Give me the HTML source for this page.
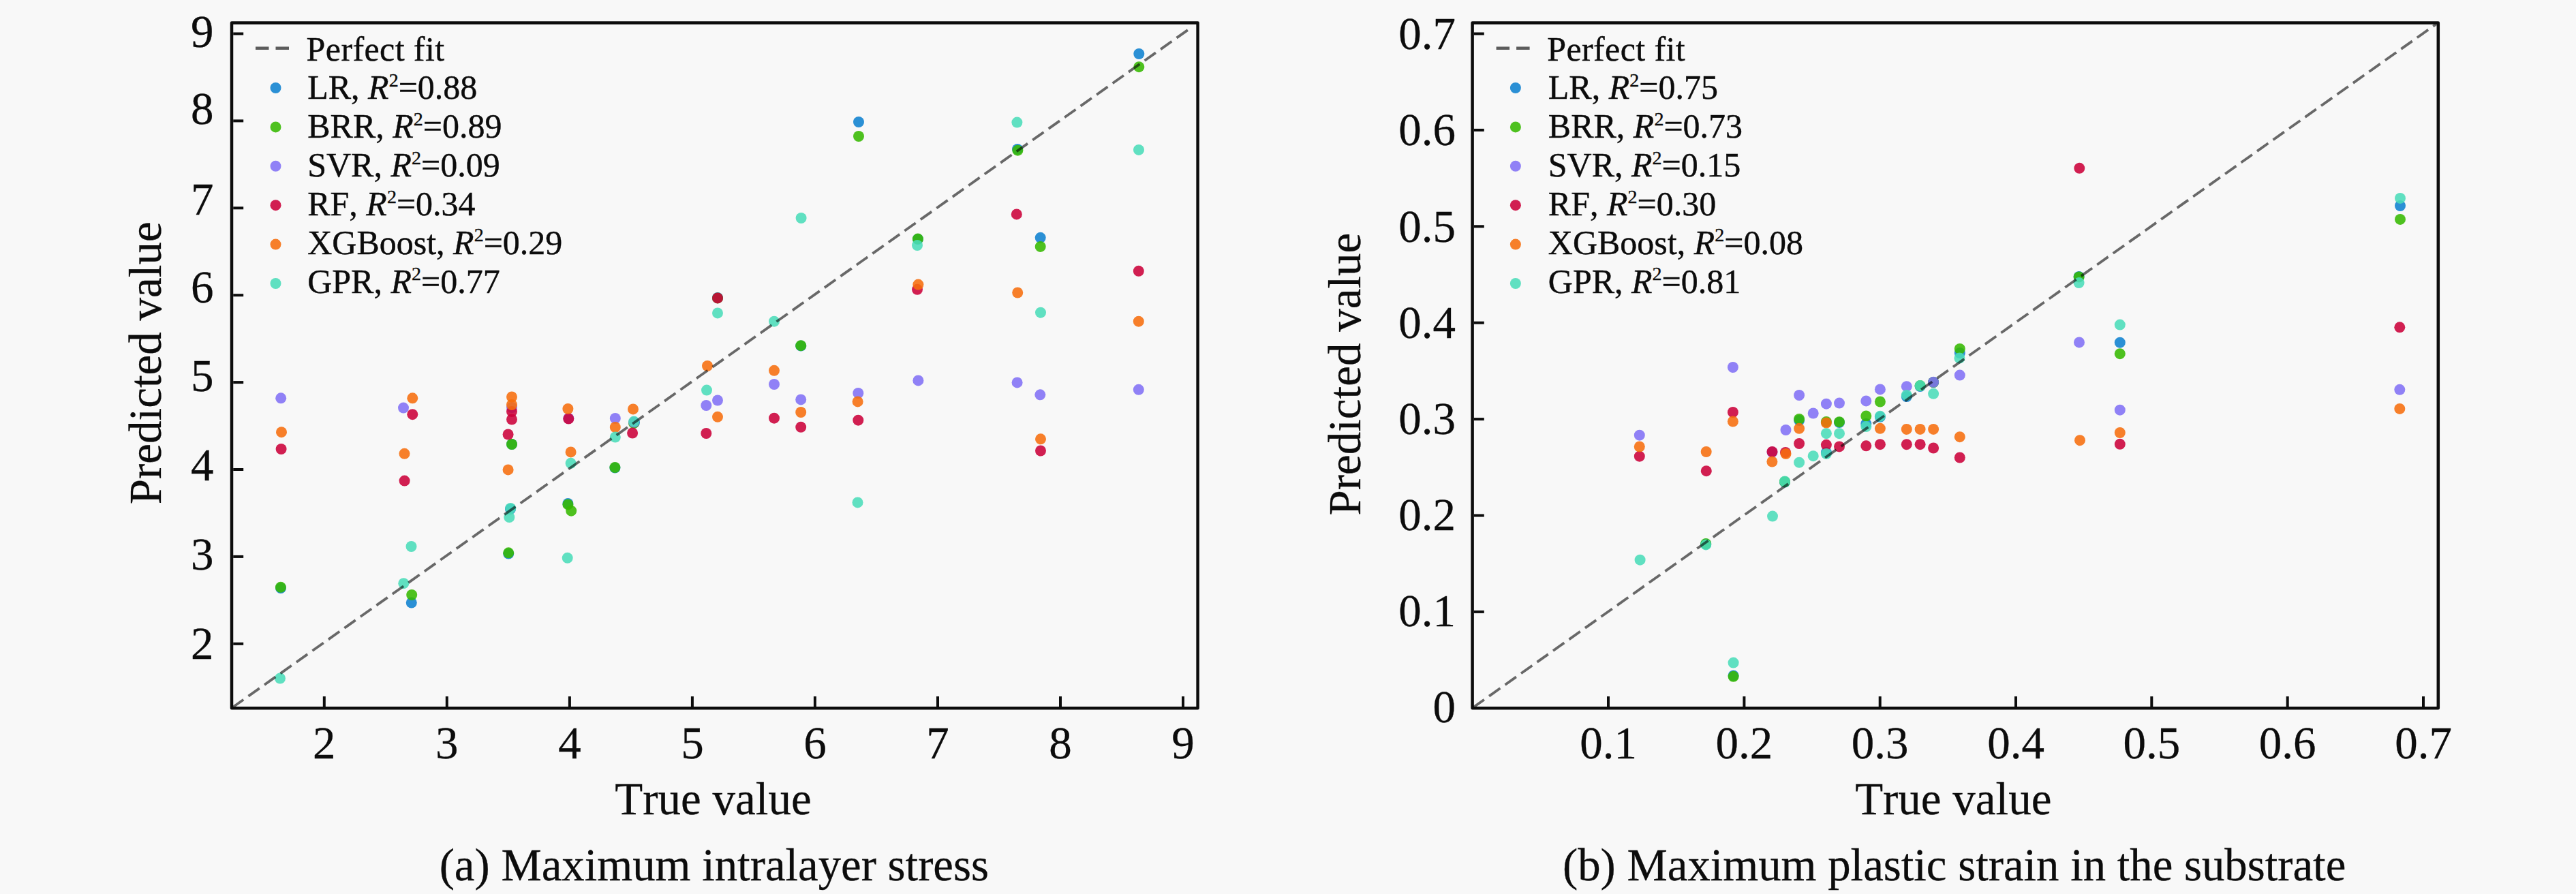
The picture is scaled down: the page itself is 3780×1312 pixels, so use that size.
<!DOCTYPE html>
<html><head><meta charset="utf-8"><title>Predicted vs true</title>
<style>
html,body{margin:0;padding:0;background:#f8f8f8;}
body{width:3780px;height:1312px;overflow:hidden;}
svg{display:block;position:absolute;left:0;top:0;}
text{font-family:"Liberation Serif",serif;fill:#0c0c0c;font-kerning:none;}
.t{font-size:67px;stroke:#0c0c0c;stroke-width:0.3px;}
.l{font-size:50px;stroke:#0c0c0c;stroke-width:0.4px;}
.s{font-size:28px;}
.i{font-style:italic;}
</style></head><body>
<svg width="3780" height="1312" viewBox="0 0 3780 1312">
<rect x="0" y="0" width="3780" height="1312" fill="#f8f8f8"/>
<g>
<clipPath id="c0"><rect x="340.0" y="33.4" width="1417.6" height="1005.9"/></clipPath>
<g fill="#0e81cf" fill-opacity="0.88">
<circle cx="412.0" cy="863.0" r="8.0"/><circle cx="603.8" cy="884.5" r="8.0"/><circle cx="751.0" cy="652.0" r="8.0"/><circle cx="749.0" cy="747.0" r="8.0"/><circle cx="746.2" cy="812.5" r="8.0"/><circle cx="833.4" cy="739.0" r="8.0"/><circle cx="902.4" cy="686.6" r="8.0"/><circle cx="931.0" cy="620.0" r="8.0"/><circle cx="1053.0" cy="437.0" r="8.0"/><circle cx="1175.2" cy="507.6" r="8.0"/><circle cx="1260.0" cy="179.0" r="8.0"/><circle cx="1346.9" cy="351.0" r="8.0"/><circle cx="1493.0" cy="219.0" r="8.0"/><circle cx="1526.7" cy="348.8" r="8.0"/><circle cx="1671.3" cy="79.0" r="8.0"/>
</g>
<g fill="#35b800" fill-opacity="0.88">
<circle cx="411.9" cy="861.8" r="8.0"/><circle cx="604.2" cy="873.0" r="8.0"/><circle cx="751.0" cy="652.0" r="8.0"/><circle cx="746.2" cy="811.3" r="8.0"/><circle cx="833.4" cy="740.4" r="8.0"/><circle cx="838.2" cy="749.7" r="8.0"/><circle cx="902.4" cy="686.0" r="8.0"/><circle cx="930.0" cy="621.0" r="8.0"/><circle cx="1053.0" cy="437.4" r="8.0"/><circle cx="1175.2" cy="507.2" r="8.0"/><circle cx="1260.0" cy="200.0" r="8.0"/><circle cx="1346.9" cy="350.6" r="8.0"/><circle cx="1493.4" cy="220.7" r="8.0"/><circle cx="1526.7" cy="361.9" r="8.0"/><circle cx="1671.3" cy="98.2" r="8.0"/>
</g>
<g fill="#8170f5" fill-opacity="0.88">
<circle cx="412.2" cy="584.3" r="8.0"/><circle cx="592.0" cy="598.6" r="8.0"/><circle cx="751.0" cy="598.0" r="8.0"/><circle cx="834.3" cy="614.0" r="8.0"/><circle cx="902.8" cy="614.0" r="8.0"/><circle cx="930.2" cy="619.5" r="8.0"/><circle cx="1036.3" cy="595.0" r="8.0"/><circle cx="1053.0" cy="587.5" r="8.0"/><circle cx="1136.0" cy="564.0" r="8.0"/><circle cx="1175.2" cy="586.4" r="8.0"/><circle cx="1259.3" cy="577.0" r="8.0"/><circle cx="1347.4" cy="558.4" r="8.0"/><circle cx="1492.6" cy="561.4" r="8.0"/><circle cx="1526.3" cy="579.3" r="8.0"/><circle cx="1670.8" cy="571.8" r="8.0"/>
</g>
<g fill="#cb0039" fill-opacity="0.88">
<circle cx="412.6" cy="659.0" r="8.0"/><circle cx="605.3" cy="608.2" r="8.0"/><circle cx="593.6" cy="705.6" r="8.0"/><circle cx="751.0" cy="604.0" r="8.0"/><circle cx="751.0" cy="615.5" r="8.0"/><circle cx="745.6" cy="637.5" r="8.0"/><circle cx="834.3" cy="614.5" r="8.0"/><circle cx="928.1" cy="635.5" r="8.0"/><circle cx="1036.3" cy="636.0" r="8.0"/><circle cx="1053.0" cy="437.4" r="8.0"/><circle cx="1136.0" cy="613.7" r="8.0"/><circle cx="1175.2" cy="626.8" r="8.0"/><circle cx="1259.3" cy="616.7" r="8.0"/><circle cx="1346.0" cy="424.8" r="8.0"/><circle cx="1491.8" cy="314.4" r="8.0"/><circle cx="1527.0" cy="661.5" r="8.0"/><circle cx="1670.8" cy="397.8" r="8.0"/>
</g>
<g fill="#f66d0c" fill-opacity="0.88">
<circle cx="413.0" cy="634.2" r="8.0"/><circle cx="605.3" cy="584.3" r="8.0"/><circle cx="593.5" cy="665.8" r="8.0"/><circle cx="751.0" cy="582.5" r="8.0"/><circle cx="751.0" cy="594.0" r="8.0"/><circle cx="745.6" cy="689.4" r="8.0"/><circle cx="833.4" cy="600.0" r="8.0"/><circle cx="837.6" cy="663.4" r="8.0"/><circle cx="902.8" cy="627.0" r="8.0"/><circle cx="929.0" cy="600.4" r="8.0"/><circle cx="1038.0" cy="537.0" r="8.0"/><circle cx="1053.0" cy="611.8" r="8.0"/><circle cx="1136.0" cy="543.8" r="8.0"/><circle cx="1175.2" cy="605.0" r="8.0"/><circle cx="1258.6" cy="589.4" r="8.0"/><circle cx="1347.4" cy="417.6" r="8.0"/><circle cx="1493.2" cy="429.5" r="8.0"/><circle cx="1527.0" cy="644.3" r="8.0"/><circle cx="1670.8" cy="471.7" r="8.0"/>
</g>
<g fill="#4adcb8" fill-opacity="0.88">
<circle cx="411.0" cy="995.5" r="8.0"/><circle cx="603.5" cy="802.0" r="8.0"/><circle cx="592.3" cy="856.2" r="8.0"/><circle cx="749.2" cy="746.0" r="8.0"/><circle cx="747.3" cy="759.0" r="8.0"/><circle cx="837.6" cy="679.8" r="8.0"/><circle cx="832.7" cy="818.8" r="8.0"/><circle cx="902.8" cy="641.5" r="8.0"/><circle cx="930.2" cy="618.6" r="8.0"/><circle cx="1037.0" cy="572.6" r="8.0"/><circle cx="1053.0" cy="459.4" r="8.0"/><circle cx="1136.0" cy="471.7" r="8.0"/><circle cx="1175.6" cy="320.0" r="8.0"/><circle cx="1258.5" cy="737.4" r="8.0"/><circle cx="1346.0" cy="360.0" r="8.0"/><circle cx="1492.4" cy="179.6" r="8.0"/><circle cx="1527.0" cy="458.7" r="8.0"/><circle cx="1671.0" cy="219.9" r="8.0"/>
</g>
<line x1="341.0" y1="1038.3" x2="1743.0" y2="44.0" stroke="#000" stroke-opacity="0.58" stroke-width="3.8" stroke-dasharray="20 8.79" clip-path="url(#c0)"/>
<rect x="340.0" y="33.4" width="1417.6" height="1005.9" fill="none" stroke="#0c0c0c" stroke-width="4.5" stroke-linejoin="round"/>
<g stroke="#0c0c0c" stroke-width="4.0">
<line x1="475.8" y1="1037.0" x2="475.8" y2="1022.0"/>
<line x1="655.8" y1="1037.0" x2="655.8" y2="1022.0"/>
<line x1="835.9" y1="1037.0" x2="835.9" y2="1022.0"/>
<line x1="1015.9" y1="1037.0" x2="1015.9" y2="1022.0"/>
<line x1="1195.9" y1="1037.0" x2="1195.9" y2="1022.0"/>
<line x1="1376.0" y1="1037.0" x2="1376.0" y2="1022.0"/>
<line x1="1556.0" y1="1037.0" x2="1556.0" y2="1022.0"/>
<line x1="1736.0" y1="1037.0" x2="1736.0" y2="1022.0"/>
<line x1="342.2" y1="944.8" x2="357.2" y2="944.8"/>
<line x1="342.2" y1="816.9" x2="357.2" y2="816.9"/>
<line x1="342.2" y1="689.0" x2="357.2" y2="689.0"/>
<line x1="342.2" y1="561.1" x2="357.2" y2="561.1"/>
<line x1="342.2" y1="433.2" x2="357.2" y2="433.2"/>
<line x1="342.2" y1="305.3" x2="357.2" y2="305.3"/>
<line x1="342.2" y1="177.4" x2="357.2" y2="177.4"/>
<line x1="342.2" y1="49.5" x2="357.2" y2="49.5"/>
</g>
<text class="t" x="475.8" y="1113.1" text-anchor="middle">2</text>
<text class="t" x="655.8" y="1113.1" text-anchor="middle">3</text>
<text class="t" x="835.9" y="1113.1" text-anchor="middle">4</text>
<text class="t" x="1015.9" y="1113.1" text-anchor="middle">5</text>
<text class="t" x="1195.9" y="1113.1" text-anchor="middle">6</text>
<text class="t" x="1376.0" y="1113.1" text-anchor="middle">7</text>
<text class="t" x="1556.0" y="1113.1" text-anchor="middle">8</text>
<text class="t" x="1736.0" y="1113.1" text-anchor="middle">9</text>
<text class="t" x="313.6" y="967.1" text-anchor="end">2</text>
<text class="t" x="313.6" y="836.3" text-anchor="end">3</text>
<text class="t" x="313.6" y="705.2" text-anchor="end">4</text>
<text class="t" x="313.6" y="574.3" text-anchor="end">5</text>
<text class="t" x="313.6" y="443.6" text-anchor="end">6</text>
<text class="t" x="313.6" y="314.5" text-anchor="end">7</text>
<text class="t" x="313.6" y="182.4" text-anchor="end">8</text>
<text class="t" x="313.6" y="69.3" text-anchor="end">9</text>
<text class="t" x="1046.5" y="1194.6" text-anchor="middle">True value</text>
<text class="t" transform="translate(235.6 532.8) rotate(-90)" text-anchor="middle">Predicted value</text>
<text class="t" style="font-size:66.75px" x="1047.8" y="1291.5" text-anchor="middle">(a) Maximum intralayer stress</text>
<line x1="375.0" y1="70.8" x2="424.5" y2="70.8" stroke="#5c5c5c" stroke-width="4.4" stroke-dasharray="19.5 10"/>
<text class="l" x="449.6" y="88.6" style="letter-spacing:0.4px">Perfect fit</text>
<circle cx="404.5" cy="129.0" r="8.0" fill="#0e81cf" fill-opacity="0.88"/>
<text class="l" x="451.2" y="145.4">LR, <tspan class="i">R</tspan><tspan class="s" dy="-18.5">2</tspan><tspan dy="18.5">=0.88</tspan></text>
<circle cx="404.5" cy="186.4" r="8.0" fill="#35b800" fill-opacity="0.88"/>
<text class="l" x="451.2" y="202.3">BRR, <tspan class="i">R</tspan><tspan class="s" dy="-18.5">2</tspan><tspan dy="18.5">=0.89</tspan></text>
<circle cx="404.5" cy="243.8" r="8.0" fill="#8170f5" fill-opacity="0.88"/>
<text class="l" x="451.2" y="259.1">SVR, <tspan class="i">R</tspan><tspan class="s" dy="-18.5">2</tspan><tspan dy="18.5">=0.09</tspan></text>
<circle cx="404.5" cy="301.2" r="8.0" fill="#cb0039" fill-opacity="0.88"/>
<text class="l" x="451.2" y="316.0">RF, <tspan class="i">R</tspan><tspan class="s" dy="-18.5">2</tspan><tspan dy="18.5">=0.34</tspan></text>
<circle cx="404.5" cy="358.6" r="8.0" fill="#f66d0c" fill-opacity="0.88"/>
<text class="l" x="451.2" y="372.9">XGBoost, <tspan class="i">R</tspan><tspan class="s" dy="-18.5">2</tspan><tspan dy="18.5">=0.29</tspan></text>
<circle cx="404.5" cy="416.0" r="8.0" fill="#4adcb8" fill-opacity="0.88"/>
<text class="l" x="451.2" y="429.7">GPR, <tspan class="i">R</tspan><tspan class="s" dy="-18.5">2</tspan><tspan dy="18.5">=0.77</tspan></text>
</g>
<g>
<clipPath id="c1"><rect x="2160.6" y="33.4" width="1417.2" height="1005.9"/></clipPath>
<g fill="#0e81cf" fill-opacity="0.88">
<circle cx="2503.2" cy="798.5" r="8.0"/><circle cx="2543.6" cy="991.5" r="8.0"/><circle cx="2619.0" cy="707.5" r="8.0"/><circle cx="2640.1" cy="617.0" r="8.0"/><circle cx="2679.9" cy="664.0" r="8.0"/><circle cx="2699.0" cy="620.0" r="8.0"/><circle cx="2738.3" cy="622.0" r="8.0"/><circle cx="2758.9" cy="611.8" r="8.0"/><circle cx="2797.8" cy="582.0" r="8.0"/><circle cx="2817.6" cy="567.0" r="8.0"/><circle cx="2837.1" cy="561.0" r="8.0"/><circle cx="2875.8" cy="518.0" r="8.0"/><circle cx="3050.6" cy="406.0" r="8.0"/><circle cx="3110.8" cy="502.7" r="8.0"/><circle cx="3522.0" cy="302.0" r="8.0"/>
</g>
<g fill="#35b800" fill-opacity="0.88">
<circle cx="2503.2" cy="798.0" r="8.0"/><circle cx="2543.6" cy="992.8" r="8.0"/><circle cx="2619.0" cy="707.0" r="8.0"/><circle cx="2640.1" cy="615.0" r="8.0"/><circle cx="2679.9" cy="619.0" r="8.0"/><circle cx="2699.0" cy="619.2" r="8.0"/><circle cx="2738.3" cy="610.5" r="8.0"/><circle cx="2758.9" cy="589.5" r="8.0"/><circle cx="2817.6" cy="566.0" r="8.0"/><circle cx="2837.1" cy="561.0" r="8.0"/><circle cx="2875.8" cy="512.0" r="8.0"/><circle cx="3050.6" cy="406.4" r="8.0"/><circle cx="3110.8" cy="519.2" r="8.0"/><circle cx="3522.0" cy="321.9" r="8.0"/>
</g>
<g fill="#8170f5" fill-opacity="0.88">
<circle cx="2405.8" cy="638.7" r="8.0"/><circle cx="2542.9" cy="539.0" r="8.0"/><circle cx="2600.5" cy="663.5" r="8.0"/><circle cx="2620.5" cy="631.0" r="8.0"/><circle cx="2640.1" cy="580.0" r="8.0"/><circle cx="2660.7" cy="606.5" r="8.0"/><circle cx="2679.9" cy="592.7" r="8.0"/><circle cx="2699.0" cy="591.6" r="8.0"/><circle cx="2738.3" cy="588.4" r="8.0"/><circle cx="2758.9" cy="571.4" r="8.0"/><circle cx="2797.8" cy="567.2" r="8.0"/><circle cx="2837.1" cy="560.8" r="8.0"/><circle cx="2875.8" cy="550.6" r="8.0"/><circle cx="3051.0" cy="502.4" r="8.0"/><circle cx="3110.8" cy="601.7" r="8.0"/><circle cx="3521.3" cy="571.8" r="8.0"/>
</g>
<g fill="#cb0039" fill-opacity="0.88">
<circle cx="2405.8" cy="669.7" r="8.0"/><circle cx="2503.8" cy="691.2" r="8.0"/><circle cx="2542.9" cy="605.0" r="8.0"/><circle cx="2600.5" cy="662.9" r="8.0"/><circle cx="2620.0" cy="664.0" r="8.0"/><circle cx="2640.1" cy="651.0" r="8.0"/><circle cx="2679.9" cy="652.8" r="8.0"/><circle cx="2699.0" cy="655.4" r="8.0"/><circle cx="2738.3" cy="654.3" r="8.0"/><circle cx="2758.9" cy="652.2" r="8.0"/><circle cx="2797.8" cy="652.2" r="8.0"/><circle cx="2817.6" cy="652.2" r="8.0"/><circle cx="2837.1" cy="657.5" r="8.0"/><circle cx="2875.8" cy="671.5" r="8.0"/><circle cx="3051.3" cy="246.8" r="8.0"/><circle cx="3110.8" cy="651.8" r="8.0"/><circle cx="3521.3" cy="480.3" r="8.0"/>
</g>
<g fill="#f66d0c" fill-opacity="0.88">
<circle cx="2405.8" cy="655.5" r="8.0"/><circle cx="2503.7" cy="663.0" r="8.0"/><circle cx="2542.9" cy="618.5" r="8.0"/><circle cx="2600.4" cy="677.5" r="8.0"/><circle cx="2620.5" cy="666.0" r="8.0"/><circle cx="2640.1" cy="628.8" r="8.0"/><circle cx="2679.9" cy="620.5" r="8.0"/><circle cx="2758.9" cy="628.8" r="8.0"/><circle cx="2797.8" cy="629.9" r="8.0"/><circle cx="2817.6" cy="629.9" r="8.0"/><circle cx="2837.1" cy="629.9" r="8.0"/><circle cx="2875.8" cy="641.2" r="8.0"/><circle cx="3052.0" cy="646.2" r="8.0"/><circle cx="3110.8" cy="635.0" r="8.0"/><circle cx="3521.3" cy="599.9" r="8.0"/>
</g>
<g fill="#4adcb8" fill-opacity="0.88">
<circle cx="2406.6" cy="821.7" r="8.0"/><circle cx="2503.2" cy="799.4" r="8.0"/><circle cx="2543.6" cy="972.6" r="8.0"/><circle cx="2601.0" cy="757.6" r="8.0"/><circle cx="2619.0" cy="706.5" r="8.0"/><circle cx="2640.1" cy="678.7" r="8.0"/><circle cx="2660.7" cy="669.2" r="8.0"/><circle cx="2679.9" cy="636.2" r="8.0"/><circle cx="2679.9" cy="666.0" r="8.0"/><circle cx="2699.0" cy="636.2" r="8.0"/><circle cx="2738.3" cy="626.0" r="8.0"/><circle cx="2758.9" cy="610.8" r="8.0"/><circle cx="2797.8" cy="579.9" r="8.0"/><circle cx="2817.6" cy="566.1" r="8.0"/><circle cx="2837.1" cy="577.8" r="8.0"/><circle cx="2875.4" cy="525.5" r="8.0"/><circle cx="3050.6" cy="415.0" r="8.0"/><circle cx="3110.8" cy="476.6" r="8.0"/><circle cx="3522.0" cy="290.9" r="8.0"/>
</g>
<line x1="2161.6" y1="1038.3" x2="3574.8" y2="35.4" stroke="#000" stroke-opacity="0.58" stroke-width="3.8" stroke-dasharray="20 8.79" clip-path="url(#c1)"/>
<rect x="2160.6" y="33.4" width="1417.2" height="1005.9" fill="none" stroke="#0c0c0c" stroke-width="4.5" stroke-linejoin="round"/>
<g stroke="#0c0c0c" stroke-width="4.0">
<line x1="2360.0" y1="1037.0" x2="2360.0" y2="1022.0"/>
<line x1="2559.4" y1="1037.0" x2="2559.4" y2="1022.0"/>
<line x1="2758.7" y1="1037.0" x2="2758.7" y2="1022.0"/>
<line x1="2958.0" y1="1037.0" x2="2958.0" y2="1022.0"/>
<line x1="3157.3" y1="1037.0" x2="3157.3" y2="1022.0"/>
<line x1="3356.7" y1="1037.0" x2="3356.7" y2="1022.0"/>
<line x1="3556.0" y1="1037.0" x2="3556.0" y2="1022.0"/>
<line x1="2162.8" y1="897.9" x2="2177.8" y2="897.9"/>
<line x1="2162.8" y1="756.5" x2="2177.8" y2="756.5"/>
<line x1="2162.8" y1="615.1" x2="2177.8" y2="615.1"/>
<line x1="2162.8" y1="473.7" x2="2177.8" y2="473.7"/>
<line x1="2162.8" y1="332.3" x2="2177.8" y2="332.3"/>
<line x1="2162.8" y1="190.9" x2="2177.8" y2="190.9"/>
<line x1="2162.8" y1="49.5" x2="2177.8" y2="49.5"/>
</g>
<text class="t" x="2360.0" y="1113.1" text-anchor="middle">0.1</text>
<text class="t" x="2559.4" y="1113.1" text-anchor="middle">0.2</text>
<text class="t" x="2758.7" y="1113.1" text-anchor="middle">0.3</text>
<text class="t" x="2958.0" y="1113.1" text-anchor="middle">0.4</text>
<text class="t" x="3157.3" y="1113.1" text-anchor="middle">0.5</text>
<text class="t" x="3356.7" y="1113.1" text-anchor="middle">0.6</text>
<text class="t" x="3556.0" y="1113.1" text-anchor="middle">0.7</text>
<text class="t" x="2136.0" y="1059.9" text-anchor="end">0</text>
<text class="t" x="2136.0" y="918.8" text-anchor="end">0.1</text>
<text class="t" x="2136.0" y="777.7" text-anchor="end">0.2</text>
<text class="t" x="2136.0" y="636.6" text-anchor="end">0.3</text>
<text class="t" x="2136.0" y="495.6" text-anchor="end">0.4</text>
<text class="t" x="2136.0" y="354.5" text-anchor="end">0.5</text>
<text class="t" x="2136.0" y="213.4" text-anchor="end">0.6</text>
<text class="t" x="2136.0" y="72.3" text-anchor="end">0.7</text>
<text class="t" x="2866.3" y="1194.6" text-anchor="middle">True value</text>
<text class="t" transform="translate(1995.6 549.2) rotate(-90)" text-anchor="middle">Predicted value</text>
<text class="t" style="font-size:66.75px" x="2867.6" y="1291.5" text-anchor="middle">(b) Maximum plastic strain in the substrate</text>
<line x1="2195.6" y1="70.8" x2="2245.1" y2="70.8" stroke="#5c5c5c" stroke-width="4.4" stroke-dasharray="19.5 10"/>
<text class="l" x="2270.2" y="88.6" style="letter-spacing:0.4px">Perfect fit</text>
<circle cx="2223.9" cy="129.0" r="8.0" fill="#0e81cf" fill-opacity="0.88"/>
<text class="l" x="2271.8" y="145.4">LR, <tspan class="i">R</tspan><tspan class="s" dy="-18.5">2</tspan><tspan dy="18.5">=0.75</tspan></text>
<circle cx="2223.9" cy="186.4" r="8.0" fill="#35b800" fill-opacity="0.88"/>
<text class="l" x="2271.8" y="202.3">BRR, <tspan class="i">R</tspan><tspan class="s" dy="-18.5">2</tspan><tspan dy="18.5">=0.73</tspan></text>
<circle cx="2223.9" cy="243.8" r="8.0" fill="#8170f5" fill-opacity="0.88"/>
<text class="l" x="2271.8" y="259.1">SVR, <tspan class="i">R</tspan><tspan class="s" dy="-18.5">2</tspan><tspan dy="18.5">=0.15</tspan></text>
<circle cx="2223.9" cy="301.2" r="8.0" fill="#cb0039" fill-opacity="0.88"/>
<text class="l" x="2271.8" y="316.0">RF, <tspan class="i">R</tspan><tspan class="s" dy="-18.5">2</tspan><tspan dy="18.5">=0.30</tspan></text>
<circle cx="2223.9" cy="358.6" r="8.0" fill="#f66d0c" fill-opacity="0.88"/>
<text class="l" x="2271.8" y="372.9">XGBoost, <tspan class="i">R</tspan><tspan class="s" dy="-18.5">2</tspan><tspan dy="18.5">=0.08</tspan></text>
<circle cx="2223.9" cy="416.0" r="8.0" fill="#4adcb8" fill-opacity="0.88"/>
<text class="l" x="2271.8" y="429.7">GPR, <tspan class="i">R</tspan><tspan class="s" dy="-18.5">2</tspan><tspan dy="18.5">=0.81</tspan></text>
</g>
</svg>
</body></html>
